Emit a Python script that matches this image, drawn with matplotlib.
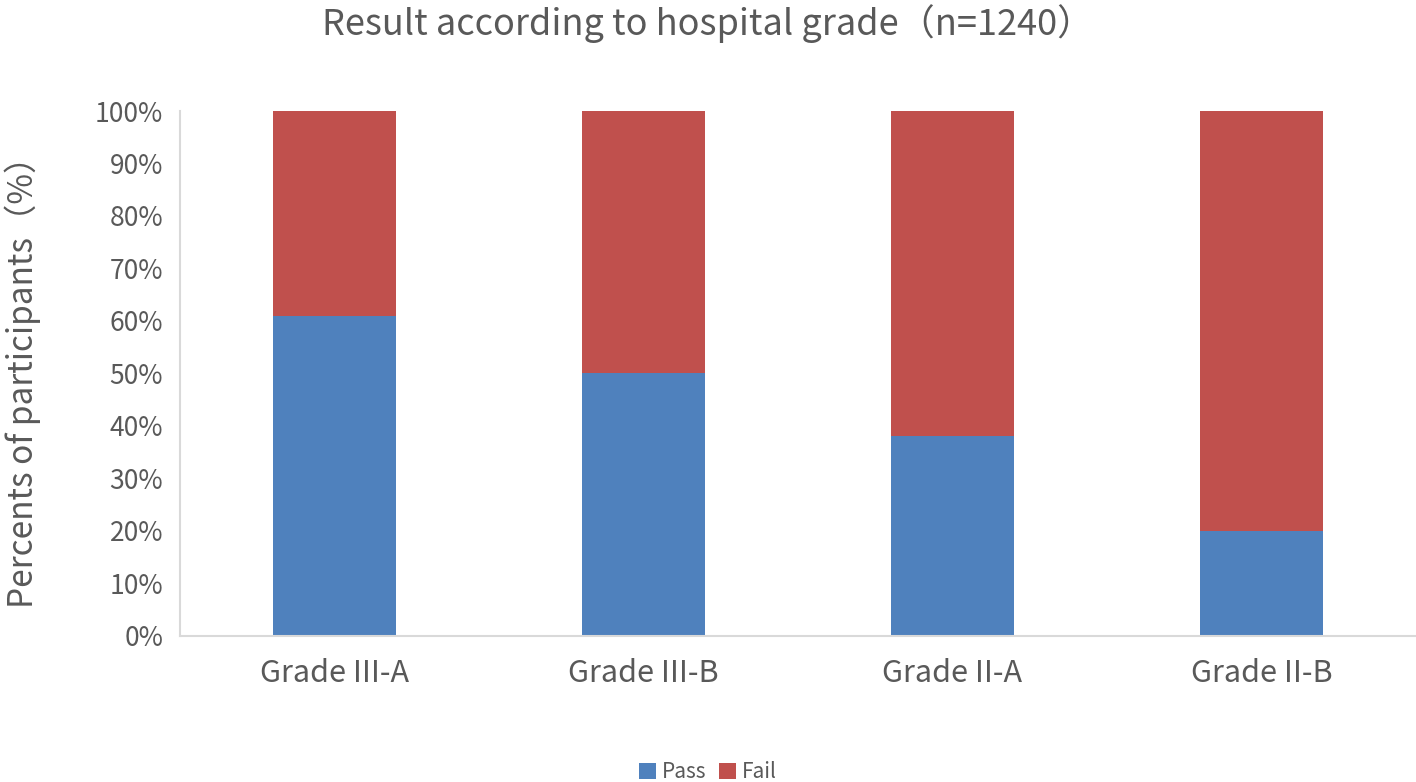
import matplotlib.pyplot as plt
import numpy as np

plt.rcParams['font.family'] = ['Noto Sans CJK SC', 'DejaVu Sans']

categories = ['Grade III-A', 'Grade III-B', 'Grade II-A', 'Grade II-B']
pass_pct = [61, 50, 38, 20]
fail_pct = [39, 50, 62, 80]

text_color = '#595959'

fig = plt.figure(figsize=(14.16, 7.82), dpi=100)
ax = fig.add_axes([0.127, 0.187, 0.873, 0.671])

x = np.arange(len(categories))
ax.bar(x, pass_pct, width=0.4, color='#4F81BD', label='Pass')
ax.bar(x, fail_pct, width=0.4, bottom=pass_pct, color='#C0504D', label='Fail')

ax.set_xlim(-0.5, len(categories) - 0.5)
ax.set_ylim(0, 100)
ax.set_yticks(np.arange(0, 101, 10))
ax.set_yticklabels([f'{v}%' for v in range(0, 101, 10)])
ax.set_xticks(x)
ax.set_xticklabels(categories)
ax.tick_params(axis='both', length=0, colors=text_color)
ax.tick_params(axis='y', labelsize=19, pad=12)
ax.tick_params(axis='x', labelsize=22, pad=16)

for side in ['top', 'right']:
    ax.spines[side].set_visible(False)
ax.spines['left'].set_color('#D9D9D9')
ax.spines['bottom'].set_color('#D9D9D9')
ax.spines['left'].set_linewidth(1.5)
ax.spines['bottom'].set_linewidth(1.5)

ax.set_ylabel('Percents of participants（%）', fontsize=24, color=text_color, labelpad=39)
fig.text(0.5, 0.995, 'Result according to hospital grade（n=1240）', ha='center', va='top',
         fontsize=26, color=text_color)

fig.legend(loc='lower center', bbox_to_anchor=(0.5, -0.025), ncol=2, frameon=False,
           fontsize=15, handlelength=0.8, handleheight=0.8, handletextpad=0.3,
           columnspacing=0.6, labelcolor=text_color)

fig.savefig('out.png', dpi=100)
